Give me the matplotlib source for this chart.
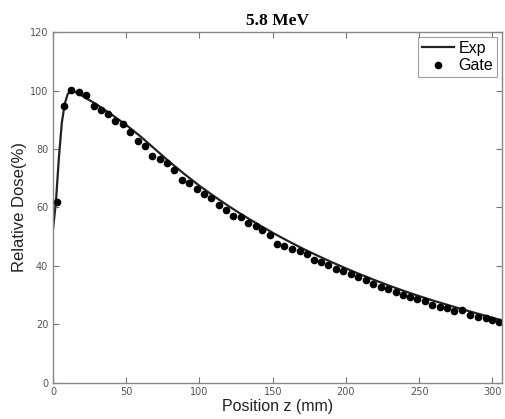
import matplotlib
matplotlib.use("Agg")
import matplotlib.pyplot as plt

# Gate simulation points
gate_z = [2.8, 7.3, 12.5, 17.5, 22.5, 27.8, 32.8, 37.6, 42.6, 47.6,
          52.8, 57.8, 62.6, 67.7, 72.9, 77.9, 82.8, 88.2, 93.0, 98.0,
          103.0, 108.0, 113.2, 118.0, 123.0, 128.0, 133.0, 138.3, 143.0, 148.0,
          153.0, 158.0, 163.4, 168.4, 173.1, 178.1, 183.2, 188.0, 193.0, 198.2,
          203.2, 208.2, 213.5, 218.5, 223.7, 228.7, 234.0, 239.0, 243.8, 248.8,
          254.0, 259.0, 264.0, 268.8, 273.8, 278.9, 284.8, 290.2, 295.5, 300.0,
          304.6]
gate_dose = [61.7, 94.6, 100.3, 99.7, 98.4, 94.9, 93.3, 92.0, 89.7, 88.6,
             86.0, 82.9, 81.1, 77.7, 76.6, 75.1, 72.7, 69.5, 68.4, 66.4,
             64.6, 63.2, 60.7, 59.2, 57.1, 56.6, 54.6, 53.5, 52.1, 50.6,
             47.4, 46.9, 45.8, 44.9, 44.0, 42.1, 41.3, 40.3, 39.0, 38.3,
             37.3, 36.1, 35.0, 33.8, 32.9, 32.0, 30.9, 30.1, 29.3, 28.6,
             27.8, 26.6, 26.0, 25.5, 24.6, 24.9, 23.2, 22.6, 22.1, 21.3,
             20.6]

# Experimental curve
exp_z = [0, 2, 4, 6, 8, 10, 12, 15, 20, 30, 40, 50, 60, 70, 80, 90, 100,
         110, 120, 130, 140, 150, 160, 170, 180, 190, 200, 210, 220, 230,
         240, 250, 260, 270, 280, 290, 300, 305]
exp_dose = [52.5, 62.0, 77.0, 89.0, 95.5, 98.8, 100.0, 99.6, 98.2, 95.2,
            91.8, 88.2, 84.2, 79.8, 75.4, 71.3, 67.4, 63.8, 60.4, 57.2,
            54.2, 51.3, 48.6, 46.0, 43.6, 41.3, 39.1, 37.0, 35.0, 33.1,
            31.3, 29.6, 28.0, 26.5, 25.0, 23.6, 22.2, 21.5]

x_ticks = [0, 50, 100, 150, 200, 250, 300]
y_ticks = [0, 20, 40, 60, 80, 100, 120]

fig = plt.figure(figsize=(5.05, 4.19), dpi=100)
ax = fig.add_axes([0.105, 0.087, 0.889, 0.836])

ax.plot(exp_z, exp_dose, color="#222222", linewidth=1.6, label="Exp")
ax.plot(gate_z, gate_dose, linestyle="none", marker="o", markersize=4.5,
        color="black", label="Gate")

ax.set_xlim(0, 306.5)
ax.set_ylim(0, 120)
ax.set_xticks(x_ticks)
ax.set_yticks(y_ticks)
ax.tick_params(direction="in", top=True, right=True, length=4,
               labelsize=7, labelcolor="#555555", color="#777777")
for s in ax.spines.values():
    s.set_color("#888888")
    s.set_linewidth(1.0)

ax.set_title("5.8 MeV", fontfamily="Liberation Serif", fontweight="bold",
             fontsize=12.5, pad=5)
ax.set_xlabel("Position z (mm)", fontfamily="Liberation Sans", fontsize=11.5,
              labelpad=1, color="#222222")
ax.set_ylabel("Relative Dose(%)", fontfamily="Liberation Sans", fontsize=12,
              labelpad=2, color="#222222")

leg = ax.legend(loc="upper right", prop={"family": "Liberation Sans", "size": 11.5},
                fancybox=False, edgecolor="#888888", borderaxespad=0.3,
                handlelength=2.0, handletextpad=0.3, borderpad=0.25,
                labelspacing=0.15)
leg.get_frame().set_linewidth(0.8)

fig.savefig("out.png", dpi=100)
